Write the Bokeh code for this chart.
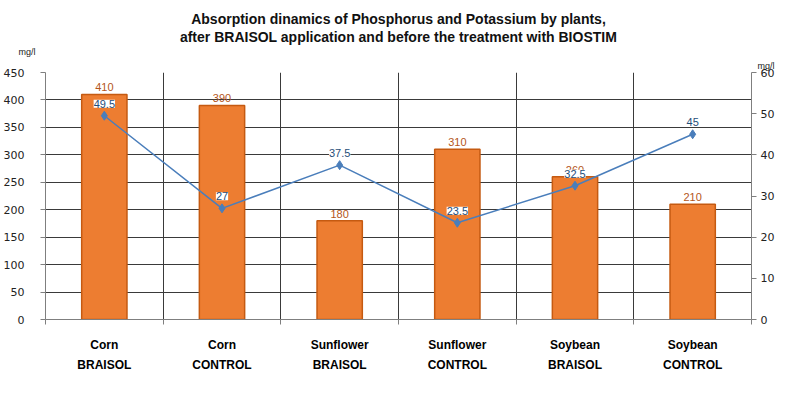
from bokeh.plotting import figure
from bokeh.models import (ColumnDataSource, LinearAxis, Range1d, FixedTicker, LabelSet,
                          Legend, LegendItem, Title)
from bokeh.core.properties import value
from bokeh.embed import file_html
from bokeh.resources import INLINE

categories = ["Corn BRAISOL", "Corn CONTROL", "Sunflower BRAISOL",
              "Sunflower CONTROL", "Soybean BRAISOL", "Soybean CONTROL"]
cat_line1 = ["Corn", "Corn", "Sunflower", "Sunflower", "Soybean", "Soybean"]
cat_line2 = ["BRAISOL", "CONTROL", "BRAISOL", "CONTROL", "BRAISOL", "CONTROL"]
k2o = [410, 390, 180, 310, 260, 210]
p2o5 = [49.5, 27, 37.5, 23.5, 32.5, 45]
left_ticks = [0, 50, 100, 150, 200, 250, 300, 350, 400, 450]
right_ticks = [0, 10, 20, 30, 40, 50, 60]
title1 = "Absorption dinamics of Phosphorus and Potassium by plants,"
title2 = "after BRAISOL application and before the treatment with BIOSTIM"
unit = "mg/l"

n = len(categories)
xc = [i + 0.5 for i in range(n)]
src = ColumnDataSource(dict(
    x=xc, k2o=k2o, p2o5=p2o5,
    k2o_txt=[str(v) for v in k2o],
    p2o5_txt=[("%g" % v) for v in p2o5],
))

FW = 706
p = figure(frame_width=FW, frame_height=247, output_backend="svg", toolbar_location=None,
           title=None, x_range=Range1d(0, n), y_range=Range1d(0, 450),
           min_border_left=0, min_border_top=0, min_border_right=0, min_border_bottom=0)
p.outline_line_color = None
p.extra_y_ranges = {"right": Range1d(0, 60)}

# titles, nearest to the frame first
p.add_layout(Title(text=unit, align="left", offset=FW + 6, text_font="Liberation Sans",
                   text_font_size="9px", text_font_style="normal", standoff=4,
                   text_color="#222222"), "above")
p.add_layout(Title(text=unit, align="left", offset=-27, text_font="Liberation Sans",
                   text_font_size="9px", text_font_style="normal", standoff=0,
                   text_color="#222222"), "above")
p.add_layout(Title(text=title2, align="center", text_font="Liberation Sans",
                   text_font_size="14px", text_font_style="bold", standoff=0,
                   text_color="#111111"), "above")
p.add_layout(Title(text=title1, align="center", text_font="Liberation Sans",
                   text_font_size="14px", text_font_style="bold", standoff=0,
                   text_color="#111111"), "above")
p.add_layout(Title(text=" ", text_font_size="5px", standoff=0), "above")

# bars
bars = p.vbar(x="x", top="k2o", width=0.385, source=src, fill_color="#ED7D31",
              line_color="#C55A11", line_width=1.5)
# line
ln = p.line(x="x", y="p2o5", source=src, y_range_name="right", line_color="#4A7EBB",
            line_width=1.5)
mk = p.scatter(x="x", y="p2o5", source=src, y_range_name="right", marker="diamond",
               size=9, fill_color="#4A7EBB", line_color="#4A7EBB")

p.add_layout(LabelSet(x="x", y="k2o", text="k2o_txt", source=src, text_align="center",
                      text_baseline="bottom", y_offset=3, text_font=value("Liberation Sans"),
                      text_font_size=value("11px"), text_color="#B4561B"))
p.add_layout(LabelSet(x="x", y="p2o5", text="p2o5_txt", source=src, y_range_name="right",
                      text_align="center", text_baseline="bottom", y_offset=8,
                      text_font=value("Liberation Sans"), text_font_size=value("11px"),
                      text_color="#1F4E79", background_fill_color="white"))

# x axes: two rows of category labels
p.xaxis.ticker = FixedTicker(ticks=xc, minor_ticks=list(range(n + 1)))
p.xaxis.major_label_overrides = {x: l for x, l in zip(xc, cat_line1)}
p.xaxis.major_tick_line_color = None
p.xaxis.minor_tick_out = 5
p.xaxis.minor_tick_in = 0
p.xaxis.minor_tick_line_color = "#7F7F7F"
p.xaxis.axis_line_color = "#7F7F7F"
p.xaxis.major_label_text_font = "Liberation Sans"
p.xaxis.major_label_text_font_style = "bold"
p.xaxis.major_label_text_font_size = "12px"
p.xaxis.major_label_text_color = "black"
p.xaxis.major_label_standoff = 12

x2 = LinearAxis(ticker=FixedTicker(ticks=xc),
                major_label_overrides={x: l for x, l in zip(xc, cat_line2)})
x2.axis_line_color = None
x2.major_tick_line_color = None
x2.minor_tick_line_color = None
x2.major_tick_out = 0
x2.major_label_standoff = 3
x2.major_label_text_font = "Liberation Sans"
x2.major_label_text_font_style = "bold"
x2.major_label_text_font_size = "12px"
x2.major_label_text_color = "black"
x2.axis_label = " "
x2.axis_label_text_font_size = "10px"
x2.axis_label_standoff = 16
p.add_layout(x2, "below")

p.yaxis.ticker = FixedTicker(ticks=left_ticks)
p.yaxis.minor_tick_line_color = None
p.yaxis.major_tick_out = 5
p.yaxis.major_tick_in = 0
p.yaxis.axis_line_color = "#7F7F7F"
p.yaxis.major_tick_line_color = "#7F7F7F"
p.yaxis.major_label_text_font = "DejaVu Sans"
p.yaxis.major_label_text_font_size = "11px"
p.yaxis.major_label_text_color = "#222222"
p.yaxis.major_label_standoff = 16

ry = LinearAxis(y_range_name="right", ticker=FixedTicker(ticks=right_ticks))
ry.minor_tick_line_color = None
ry.major_tick_out = 5
ry.major_tick_in = 0
ry.axis_line_color = "#7F7F7F"
ry.major_tick_line_color = "#7F7F7F"
ry.major_label_text_font = "DejaVu Sans"
ry.major_label_text_font_size = "11px"
ry.major_label_text_color = "#222222"
ry.major_label_standoff = 4
p.add_layout(ry, "right")

p.xgrid.ticker = FixedTicker(ticks=list(range(1, n)))
p.xgrid.grid_line_color = "#3A3A3A"
p.ygrid.ticker = FixedTicker(ticks=left_ticks)
p.ygrid.grid_line_color = "#3A3A3A"

legend = Legend(items=[LegendItem(label="K2O", renderers=[bars]),
                       LegendItem(label="P2O5", renderers=[ln, mk])],
                orientation="horizontal", location="top_center", label_text_font_size="9px",
                label_text_font="Liberation Sans", glyph_width=16, glyph_height=8,
                border_line_color=None, background_fill_alpha=0, margin=0, padding=0,
                spacing=12, label_standoff=3, label_height=10)
p.add_layout(legend, "below")

open("out.html", "w").write(file_html(p, INLINE))
